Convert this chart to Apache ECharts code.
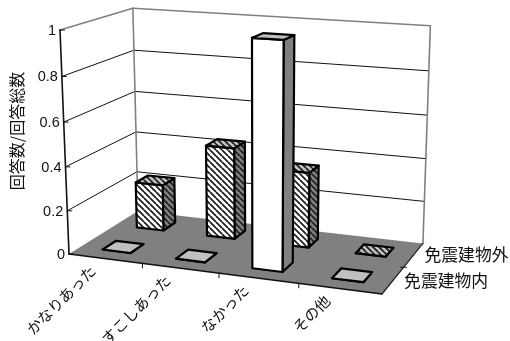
<!DOCTYPE html>
<html>
<head>
<meta charset="utf-8">
<style>html,body{margin:0;padding:0;background:#fff}#chart{width:510px;height:341px}</style>
<script src="https://cdn.jsdelivr.net/npm/echarts@6/dist/echarts.min.js"></script>
</head>
<body>
<div id="chart"></div>
<script>
const categories = ['かなりあった', 'すこしあった', 'なかった', 'その他'];
const seriesNames = ['免震建物内', '免震建物外'];
const valuesInside = [0, 0, 1, 0];
const valuesOutside = [0.22, 0.43, 0.35, 0];
const valueTicks = [0, 0.2, 0.4, 0.6, 0.8, 1];
const tickLabels = ['0', '0.2', '0.4', '0.6', '0.8', '1'];
const yTitle = '回答数/回答総数';

// Oblique perspective box: unit cube (u along categories, v up, w into depth) to screen.
const O = [69, 254], PU = [382, 294], PV = [60, 30], PW = [138, 211];
const pa = -0.08, pb = -0.045, pc = 0.11;
const vecA = [PU[0] * (1 + pa) - O[0], PU[1] * (1 + pa) - O[1]];
const vecB = [PV[0] * (1 + pb) - O[0], PV[1] * (1 + pb) - O[1]];
const vecC = [PW[0] * (1 + pc) - O[0], PW[1] * (1 + pc) - O[1]];
function project(u, v, w) {
  const d = pa * u + pb * v + pc * w + 1;
  return [
    (vecA[0] * u + vecB[0] * v + vecC[0] * w + O[0]) / d,
    (vecA[1] * u + vecB[1] * v + vecC[1] * w + O[1]) / d
  ];
}

const JP = '"Noto Sans CJK JP"';
const LATIN = '"Liberation Sans"';
const GRID = { left: 0, top: 0, width: 100, height: 100 };

function hatch(base) {
  const c = document.createElement('canvas');
  c.width = c.height = 6;
  const g = c.getContext('2d');
  g.fillStyle = base;
  g.fillRect(0, 0, 6, 6);
  g.strokeStyle = '#222';
  g.lineWidth = 1.4;
  [[-6, -6, 6, 6], [0, 0, 12, 12], [0, -6, 12, 6], [-6, 0, 6, 12]].forEach(s => {
    g.beginPath(); g.moveTo(s[0], s[1]); g.lineTo(s[2], s[3]); g.stroke();
  });
  return { image: c, repeat: 'repeat' };
}
const hatchFront = hatch('#ffffff'), hatchSide = hatch('#808080'), hatchTop = hatch('#c0c0c0');

function line(a, b, stroke, width) {
  return { type: 'line', shape: { x1: a[0], y1: a[1], x2: b[0], y2: b[1] },
    style: { stroke, lineWidth: width, lineCap: 'round' } };
}
function poly(points, fill, stroke, width) {
  return { type: 'polygon', shape: { points },
    style: { fill, stroke: stroke || 'none', lineWidth: width || 0, lineJoin: 'round' } };
}
function label(text, x, y, font, align, rotation) {
  return { type: 'text', x, y, rotation: rotation || 0,
    style: { text, font, fill: '#111', align, verticalAlign: 'middle' } };
}

// Walls, floor, gridlines, ticks and all axis text.
function renderFrame(params, api) {
  if (params.dataIndex !== 0) return null;
  const size = GRID.height;
  const vOf = val => (GRID.top + size - api.coord([0, val])[1]) / size;
  const kids = [];
  kids.push(poly([project(0, 0, 1), project(1, 0, 1), project(1, 1, 1), project(0, 1, 1)], '#fff'));
  kids.push(poly([project(0, 0, 0), project(0, 0, 1), project(0, 1, 1), project(0, 1, 0)], '#fff'));
  valueTicks.forEach(t => {
    if (t === 0 || t === 1) return;
    const v = vOf(t);
    kids.push(line(project(0, v, 0), project(0, v, 1), '#111', 1));
    kids.push(line(project(0, v, 1), project(1, v, 1), '#111', 1));
  });
  kids.push(line(project(0, 1, 0), project(0, 1, 1), '#808080', 1.6));
  kids.push(line(project(0, 1, 1), project(1, 1, 1), '#808080', 1.6));
  kids.push(line(project(0, 0, 1), project(0, 1, 1), '#808080', 1.6));
  kids.push(line(project(1, 0, 1), project(1, 1, 1), '#808080', 1.6));
  kids.push(poly([project(0, 0, 0), project(1, 0, 0), project(1, 0, 1), project(0, 0, 1)], '#808080'));
  kids.push(line(project(0, 0, 0), project(1, 0, 0), '#111', 1.6));
  kids.push(line(project(1, 0, 0), project(1, 0, 1), '#222', 1.2));
  kids.push(line(project(0, 0, 0), project(0, 1, 0), '#111', 1.6));
  valueTicks.forEach((t, i) => {
    const p = project(0, vOf(t), 0);
    kids.push(line(p, [p[0] + 4.5, p[1]], '#111', 1));
    kids.push(label(tickLabels[i], p[0] - 4, p[1] + 1, '14.5px ' + LATIN, 'right'));
  });
  [0.25, 0.5, 0.75].forEach(u => {
    const p = project(u, 0, 0);
    kids.push(line(p, [p[0], p[1] + 4.5], '#111', 1));
  });
  const mid = project(1, 0, 0.5);
  kids.push(line([mid[0] - 3, mid[1]], [mid[0] + 3, mid[1]], '#222', 1));
  categories.forEach((name, i) => {
    const c = api.coord([i, 0]);
    const p = project((c[0] - GRID.left) / GRID.width, 0, 0);
    kids.push(label(name, p[0] - 12.5, p[1] + 9.5, '15px ' + JP, 'right', Math.PI / 4));
  });
  seriesNames.forEach((name, k) => {
    const p = project(1, 0, k === 0 ? 0.25 : 0.75);
    kids.push(label(name, p[0] + 11, p[1], '16.8px ' + JP, 'left'));
  });
  kids.push(label(yTitle, 17, 131, '16px ' + JP, 'center', Math.PI / 2));
  return { type: 'group', children: kids };
}

// One box per category, standing on the floor in its own row.
function barRenderer(rowW, fills) {
  const halfU = 0.048, halfW = 0.095;
  return function (params, api) {
    const c = api.coord([api.value(0), api.value(1)]);
    const u = (c[0] - GRID.left) / GRID.width;
    const v = (GRID.top + GRID.height - c[1]) / GRID.height;
    const u0 = u - halfU, u1 = u + halfU, w0 = rowW - halfW, w1 = rowW + halfW;
    const lw = 2.2;
    return { type: 'group', children: [
      poly([project(u1, 0, w0), project(u1, 0, w1), project(u1, v, w1), project(u1, v, w0)], fills.side, '#000', lw),
      poly([project(u0, 0, w0), project(u1, 0, w0), project(u1, v, w0), project(u0, v, w0)], fills.front, '#000', lw),
      poly([project(u0, v, w0), project(u1, v, w0), project(u1, v, w1), project(u0, v, w1)], fills.top, '#000', lw)
    ] };
  };
}

const toData = arr => arr.map((val, i) => [i, val]);
const chart = echarts.init(document.getElementById('chart'), null, { renderer: 'canvas' });
chart.setOption({
  animation: false,
  backgroundColor: '#fff',
  grid: GRID,
  xAxis: { type: 'category', data: categories, show: false },
  yAxis: { type: 'value', min: 0, max: 1, interval: 0.2, show: false },
  series: [
    { type: 'custom', name: 'frame', silent: true, clip: false, data: toData(valuesOutside), renderItem: renderFrame, z: 1 },
    { type: 'custom', name: seriesNames[1], silent: true, clip: false, data: toData(valuesOutside), z: 2,
      renderItem: barRenderer(0.75, { front: hatchFront, side: hatchSide, top: hatchTop }) },
    { type: 'custom', name: seriesNames[0], silent: true, clip: false, data: toData(valuesInside), z: 3,
      renderItem: barRenderer(0.25, { front: '#fff', side: '#808080', top: '#c0c0c0' }) }
  ]
});
</script>
</body>
</html>
